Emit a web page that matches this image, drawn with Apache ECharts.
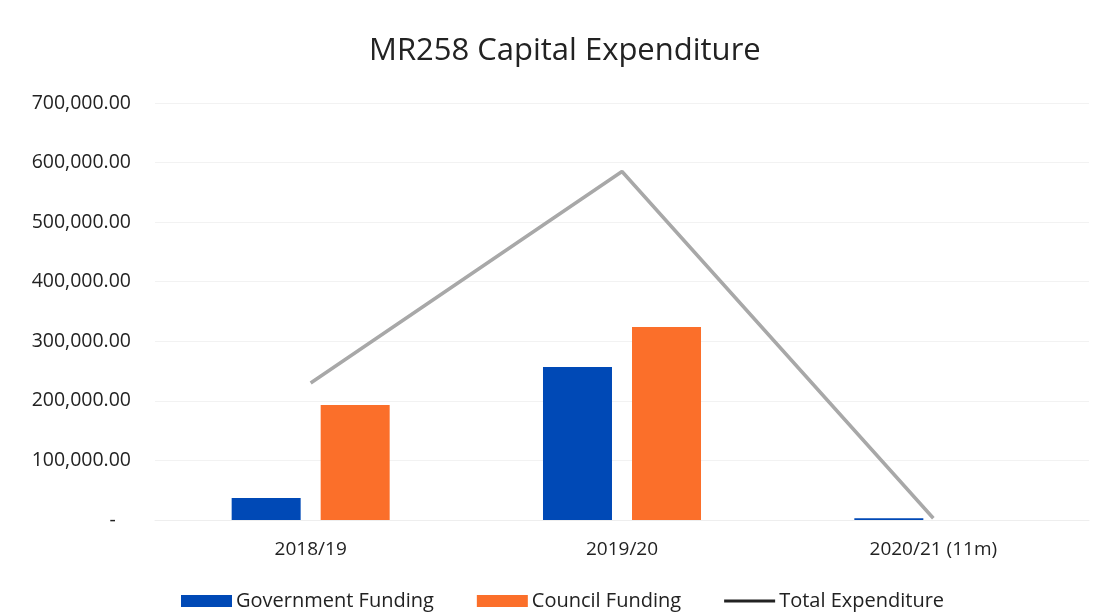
<!DOCTYPE html>
<html>
<head>
<meta charset="utf-8">
<script src="https://cdn.jsdelivr.net/npm/echarts@6/dist/echarts.min.js"></script>
<style>
html,body{margin:0;padding:0;background:#fff;}
#chart{width:1099px;height:614px;}
</style>
</head>
<body>
<div id="chart"></div>
<script>
const categories = ['2018/19', '2019/20', '2020/21 (11m)'];
const governmentFunding = [37000, 257000, 3000];
const councilFunding = [193000, 324000, 0];
const totalExpenditure = [230000, 585000, 3000];
const yTicks = [0, 100000, 200000, 300000, 400000, 500000, 600000, 700000];

const FONT = 'Open Sans';
const LINE_ICON = 'path://M0,0h0.5v0.001h-0.5z M0,4.5h52v3h-52z M0,12h0.5v0.001h-0.5z';
const chart = echarts.init(document.getElementById('chart'));
chart.setOption({
  backgroundColor: '#ffffff',
  animation: false,
  title: {
    text: 'MR258 Capital Expenditure',
    left: 364,
    top: 31,
    textStyle: {fontFamily: FONT, fontSize: 31, fontWeight: 'normal', color: '#222'}
  },
  legend: {
    top: 586,
    left: 176,
    itemWidth: 51,
    itemHeight: 12,
    itemGap: 43,
    textStyle: {fontFamily: FONT, fontSize: 20, color: '#222', padding: [0, 0, 0, -1]},
    data: [
      {name: 'Government Funding', icon: 'rect'},
      {name: 'Council Funding', icon: 'rect'},
      {name: 'Total Expenditure', icon: LINE_ICON, itemStyle: {color: '#222'}}
    ]
  },
  grid: {left: 155, right: 10, top: 103, bottom: 94, containLabel: false},
  xAxis: {
    type: 'category',
    data: categories,
    axisLine: {show: true, lineStyle: {color: '#eeeeee'}},
    axisTick: {show: false},
    axisLabel: {fontFamily: FONT, fontSize: 19, color: '#222', margin: 20}
  },
  yAxis: {
    type: 'value',
    min: 0,
    max: 700000,
    interval: 100000,
    axisLine: {show: false},
    axisTick: {show: false},
    splitLine: {lineStyle: {color: '#f2f2f2'}},
    axisLabel: {
      fontFamily: FONT, fontSize: 19.5, color: '#222', margin: 24,
      formatter: function (v) {
        if (v === 0) return '-   ';
        return v.toLocaleString('en-US', {minimumFractionDigits: 2, maximumFractionDigits: 2});
      }
    }
  },
  series: [
    {
      name: 'Government Funding',
      type: 'bar',
      data: governmentFunding,
      barWidth: 69,
      barGap: '29%',
      itemStyle: {color: '#0049b6'}
    },
    {
      name: 'Council Funding',
      type: 'bar',
      data: councilFunding,
      barWidth: 69,
      itemStyle: {color: '#fb6f2a'}
    },
    {
      name: 'Total Expenditure',
      type: 'line',
      data: totalExpenditure,
      symbol: 'none',
      lineStyle: {color: '#a8a8a8', width: 3.5},
      itemStyle: {color: '#a8a8a8'}
    }
  ]
});
</script>
</body>
</html>
